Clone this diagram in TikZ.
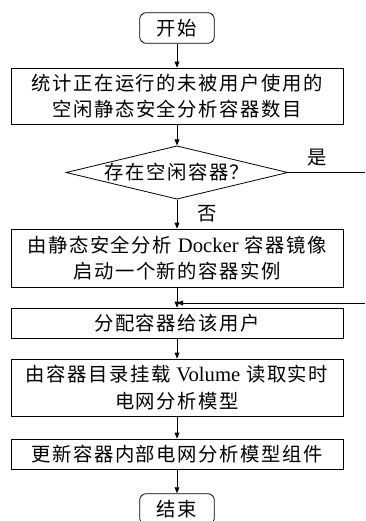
\documentclass[tikz,border=0pt]{standalone}
\usepackage{fontspec}
\setmainfont{Liberation Serif}
\newfontfamily\cjk[LetterSpace=8]{Noto Sans CJK SC}
\usetikzlibrary{arrows.meta,shapes.geometric}

\begin{document}
\begin{tikzpicture}[x=0.75pt,y=-0.75pt,
  line width=0.6pt,
  every node/.style={font=\cjk\fontsize{14.5pt}{20pt}\selectfont, inner sep=0pt},
  procbox/.style={draw, rectangle, minimum width=249pt, align=center},
  termbox/.style={draw, rounded corners=5pt, minimum width=56pt, minimum height=23pt},
  decbox/.style={draw, diamond, aspect=4.3, minimum width=158pt, minimum height=40pt},
  latin/.style={},
  flow/.style={-{Triangle[length=4.5pt,width=3.6pt]}}]
\useasboundingbox (0,0) rectangle (365,521);

% flow steps
\node[termbox] (start) at (177,28) {开始};
\node[procbox, minimum height=42pt] (count) at (177,96)
  {统计正在运行的未被用户使用的\\空闲静态安全分析容器数目};
\node[decbox] (dec) at (177,172.5) {存在空闲容器？};
\node[procbox, minimum height=43.5pt] (launch) at (177,258)
  {由静态安全分析 {\rmfamily\fontsize{15.5pt}{20pt}\selectfont Docker} 容器镜像\\启动一个新的容器实例};
\node[procbox, minimum height=22.5pt] (assign) at (177,323) {分配容器给该用户};
\node[procbox, minimum height=42.75pt] (mount) at (177,387.5)
  {由容器目录挂载 {\rmfamily\fontsize{15.5pt}{20pt}\selectfont Volume} 读取实时\\电网分析模型};
\node[procbox, minimum height=22.5pt] (update) at (177,454) {更新容器内部电网分析模型组件};
\node[termbox] (stop) at (177,509) {结束};

% branch labels
\node (yes) at (317,158) {是};
\node (no) at (207,214) {否};

% connectors
\coordinate (yesend) at (365,172.5);
\coordinate (back) at (365,303);
\draw[flow] (start) -- (count);
\draw[flow] (count) -- (dec);
\draw[flow] (dec) -- (launch);
\draw (dec.east) -- (yesend);
\draw[flow] (back) -- (launch.south |- back);
\draw[flow] (launch) -- (assign);
\draw[flow] (assign) -- (mount);
\draw[flow] (mount) -- (update);
\draw[flow] (update) -- (stop);
\end{tikzpicture}
\end{document}
